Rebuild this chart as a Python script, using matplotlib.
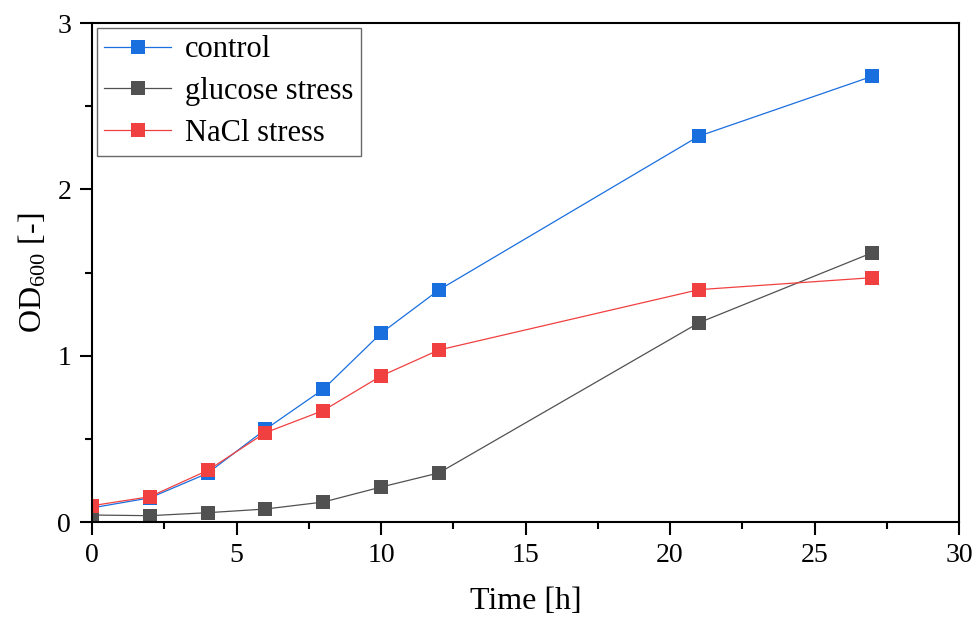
import matplotlib
matplotlib.use("Agg")
import matplotlib.pyplot as plt
from matplotlib.ticker import MultipleLocator

plt.rcParams['font.family'] = ['Liberation Serif', 'DejaVu Serif']
plt.rcParams['mathtext.fontset'] = 'custom'
plt.rcParams['mathtext.rm'] = 'Liberation Serif'
plt.rcParams['mathtext.it'] = 'Liberation Serif:italic'

time = [0, 2, 4, 6, 8, 10, 12, 21, 27]
control = [0.085, 0.145, 0.293, 0.557, 0.798, 1.135, 1.395, 2.32, 2.68]
glucose = [0.042, 0.038, 0.056, 0.078, 0.12, 0.21, 0.295, 1.198, 1.619]
nacl = [0.098, 0.152, 0.31, 0.537, 0.67, 0.878, 1.034, 1.397, 1.469]
labels = ['control', 'glucose stress', 'NaCl stress']
colors = ['#1a6fdf', '#515151', '#f14040']

fig = plt.figure(figsize=(9.75, 6.19), dpi=100)
ax = fig.add_axes([0.0944, 0.1567, 0.8892, 0.8061])

for y, lab, c in zip([control, glucose, nacl], labels, colors):
    ax.plot(time, y, color=c, lw=0.9, marker='s', markersize=10.5,
            markeredgewidth=0, label=lab)

ax.set_xlim(0, 30)
ax.set_ylim(0, 3)
ax.xaxis.set_major_locator(MultipleLocator(5))
ax.xaxis.set_minor_locator(MultipleLocator(2.5))
ax.yaxis.set_major_locator(MultipleLocator(1))
ax.yaxis.set_minor_locator(MultipleLocator(0.5))
ax.tick_params(which='major', direction='out', length=9, width=1.5, labelsize=20, pad=6)
ax.tick_params(which='minor', direction='out', length=5, width=1.5)
for s in ax.spines.values():
    s.set_linewidth(1.5)

ax.set_xlabel('Time [h]', fontsize=23, labelpad=14)
ax.set_ylabel(r'OD$_{\mathrm{600}}$ [-]', fontsize=23, labelpad=6)

leg = ax.legend(loc='upper left', fontsize=22, frameon=True, fancybox=False,
                edgecolor='#444444', borderpad=0.25, handlelength=2.2,
                labelspacing=0.42, borderaxespad=0.15, handletextpad=0.45)
leg.get_frame().set_linewidth(1.0)

fig.savefig('out.png', dpi=100)
